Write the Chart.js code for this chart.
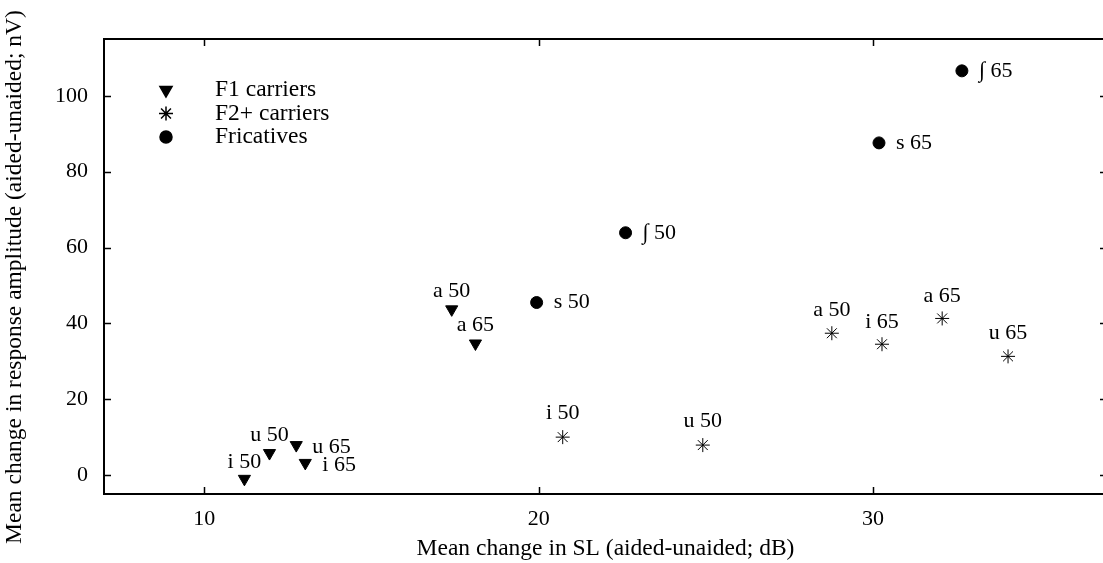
<!DOCTYPE html>
<html>
<head>
<meta charset="utf-8">
<script src="https://cdn.jsdelivr.net/npm/chart.js@4.4.0/dist/chart.umd.min.js"></script>
<style>
  html, body { margin: 0; padding: 0; background: #fff; overflow: hidden; }
  #wrap { width: 1103px; height: 563px; overflow: hidden; position: relative; }
  #inner { width: 1115px; height: 563px; position: absolute; left: 0; top: 0; }
  canvas { display: block; width: 1115px; height: 563px; }
</style>
</head>
<body>
<div id="wrap"><div id="inner"><canvas id="chart" width="1115" height="563"></canvas></div></div>
<script>
// --- valori ---
const xTickValues = [10, 20, 30];
const yTickValues = [0, 20, 40, 60, 80, 100];

const seriesNames = ['F1 carriers', 'F2+ carriers', 'Fricatives'];
const xTitle = 'Mean change in SL (aided-unaided; dB)';
const yTitle = 'Mean change in response amplitude (aided-unaided; nV)';

// F1 carriers (triangoli)
const f1Labels = ['i 50', 'u 50', 'u 65', 'i 65', 'a 50', 'a 65'];
const f1X = [11.2, 11.95, 12.75, 13.02, 17.4, 18.11];
const f1Y = [-1.0, 5.8, 7.9, 3.2, 43.7, 34.7];

// F2+ carriers (asterischi)
const f2Labels = ['i 50', 'u 50', 'a 50', 'i 65', 'a 65', 'u 65'];
const f2X = [20.72, 24.91, 28.77, 30.27, 32.07, 34.04];
const f2Y = [10.0, 7.9, 37.4, 34.5, 41.3, 31.3];

// Fricatives (cerchi)
const fricLabels = ['s 50', '\u222B 50', 's 65', '\u222B 65'];
const fricX = [19.94, 22.6, 30.18, 32.66];
const fricY = [45.5, 63.9, 87.6, 106.6];

// posizione delle etichette rispetto al punto (pixel) - solo stile
const f1LabelPos = [[0, -17, 'center'], [0, -18, 'center'], [16, 2, 'left'], [17, 2, 'left'], [0, -18, 'center'], [0, -18, 'center']];
const f2LabelPos = [[0, -24, 'center'], [0, -24, 'center'], [0, -23, 'center'], [0, -22, 'center'], [0, -22, 'center'], [0, -23, 'center']];
const fricLabelPos = [[17, 0, 'left'], [17, 0, 'left'], [17, 0, 'left'], [17, 0, 'left']];

const FONT = "'Liberation Serif', 'DejaVu Serif', serif";

function toPoints(xs, ys) {
    return xs.map((x, i) => ({ x: x, y: ys[i] }));
}

const pointLabels = [
    { labels: f1Labels, pos: f1LabelPos },
    { labels: f2Labels, pos: f2LabelPos },
    { labels: fricLabels, pos: fricLabelPos }
];

// plugin: cornice, tacche interne, etichette dei punti, legenda e titolo y
const framePlugin = {
    id: 'frame',
    afterDraw(chart) {
        const ctx = chart.ctx;
        const a = chart.chartArea;
        const xs = chart.scales.x, ys = chart.scales.y;
        ctx.save();
        ctx.strokeStyle = '#000';
        ctx.lineWidth = 2;
        ctx.strokeRect(a.left, a.top, a.right - a.left, a.bottom - a.top);

        ctx.lineWidth = 1.5;
        ctx.beginPath();
        xTickValues.forEach(v => {
            const px = Math.round(xs.getPixelForValue(v)) + 0.5;
            ctx.moveTo(px, a.bottom); ctx.lineTo(px, a.bottom - 7);
            ctx.moveTo(px, a.top); ctx.lineTo(px, a.top + 7);
        });
        yTickValues.forEach(v => {
            const py = Math.round(ys.getPixelForValue(v)) + 0.5;
            ctx.moveTo(a.left, py); ctx.lineTo(a.left + 7, py);
            ctx.moveTo(a.right, py); ctx.lineTo(a.right - 7, py);
        });
        ctx.stroke();

        // etichette dei punti
        ctx.fillStyle = '#000';
        ctx.font = '22px ' + FONT;
        ctx.textBaseline = 'middle';
        pointLabels.forEach((set, di) => {
            const meta = chart.getDatasetMeta(di);
            meta.data.forEach((el, i) => {
                const p = set.pos[i];
                ctx.textAlign = p[2];
                ctx.fillText(set.labels[i], el.x + p[0], el.y + p[1]);
            });
        });

        // legenda
        const lx = 166, lyStart = 90, lstep = 23.5;
        ctx.font = '23.5px ' + FONT;
        chart.data.datasets.forEach((ds, i) => {
            const y = lyStart + i * lstep;
            ctx.fillStyle = '#000';
            ctx.strokeStyle = '#000';
            Chart.helpers.drawPoint(ctx, {
                pointStyle: ds.pointStyle,
                rotation: ds.rotation || 0,
                radius: ds.pointRadius,
                borderWidth: ds.borderWidth
            }, lx, y);
            ctx.textAlign = 'left';
            ctx.fillText(ds.label, 215, y);
        });

        // titolo asse y
        ctx.translate(15, 277);
        ctx.rotate(-Math.PI / 2);
        ctx.textAlign = 'center';
        ctx.fillText(yTitle, 0, 0);
        ctx.restore();
    }
};

const chart = new Chart(document.getElementById('chart'), {
    type: 'scatter',
    data: {
        datasets: [
            {
                label: seriesNames[0],
                data: toPoints(f1X, f1Y),
                pointStyle: 'triangle',
                rotation: 180,
                pointRotation: 180,
                pointRadius: 7,
                backgroundColor: '#000',
                borderColor: '#000',
                borderWidth: 1
            },
            {
                label: seriesNames[1],
                data: toPoints(f2X, f2Y),
                pointStyle: 'star',
                pointRadius: 7,
                backgroundColor: '#000',
                borderColor: '#000',
                borderWidth: 1
            },
            {
                label: seriesNames[2],
                data: toPoints(fricX, fricY),
                pointStyle: 'circle',
                pointRadius: 6,
                backgroundColor: '#000',
                borderColor: '#000',
                borderWidth: 1
            }
        ]
    },
    options: {
        responsive: false,
        devicePixelRatio: 1,
        animation: false,
        events: [],
        layout: { padding: { top: 39, right: 3, left: 0, bottom: 0 } },
        plugins: {
            legend: { display: false },
            tooltip: { enabled: false }
        },
        scales: {
            x: {
                type: 'linear',
                min: 7,
                max: 37,
                afterBuildTicks: (s) => { s.ticks = xTickValues.map(v => ({ value: v })); },
                afterFit: (s) => { s.height = 69; s.paddingLeft = 0; s.paddingRight = 0; },
                grid: { display: false, drawTicks: false },
                border: { display: false },
                ticks: { color: '#000', padding: 12, font: { family: FONT, size: 22 } },
                title: {
                    display: true,
                    text: xTitle,
                    color: '#000',
                    padding: { top: 0, bottom: 0 },
                    font: { family: FONT, size: 23.5 }
                }
            },
            y: {
                type: 'linear',
                min: -5,
                max: 115,
                afterBuildTicks: (s) => { s.ticks = yTickValues.map(v => ({ value: v })); },
                afterFit: (s) => { s.width = 104; s.paddingTop = 0; s.paddingBottom = 0; },
                grid: { display: false, drawTicks: false },
                border: { display: false },
                ticks: { color: '#000', padding: 16, font: { family: FONT, size: 22 } },
                title: { display: false }
            }
        }
    },
    plugins: [framePlugin]
});
</script>
</body>
</html>
